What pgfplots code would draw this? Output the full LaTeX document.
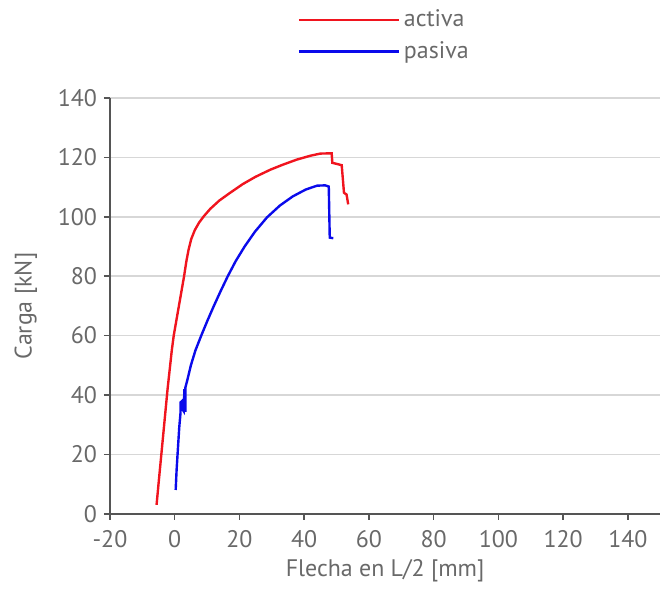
\documentclass[border={4pt 0pt 2pt 1pt}]{standalone}
\usepackage{fontspec}
\setmainfont{PT Sans}
\usepackage{pgfplots}
\pgfplotsset{compat=1.18}
\definecolor{txtgray}{RGB}{105,105,105}
\definecolor{axgray}{RGB}{85,85,85}
\definecolor{gridgray}{RGB}{215,215,215}
\definecolor{cRed}{RGB}{240,20,30}
\definecolor{cBlue}{RGB}{10,10,235}
\begin{document}
\begin{tikzpicture}
\begin{axis}[
  width=276pt, height=208.5pt,
  scale only axis,
  xmin=-20, xmax=150,
  ymin=0, ymax=140,
  xtick={-20,0,...,140},
  ytick={0,20,...,140},
  axis x line*=bottom,
  axis y line*=left,
  axis line style={axgray, line width=0.8pt},
  tick style={axgray, line width=0.8pt},
  tick align=outside,
  major tick length=3pt,
  ymajorgrids,
  grid style={gridgray, line width=0.8pt},
  font=\fontsize{12}{14}\selectfont,
  tick label style={txtgray},
  xticklabel style={yshift=-2pt},
  label style={txtgray},
  /pgf/number format/assume math mode=true,
  xlabel={Flecha en L/2 [mm]},
  ylabel={Carga [kN]},
  xlabel style={yshift=1pt},
  ylabel style={yshift=3.5pt},
  legend style={at={(0.5,1)}, anchor=south, yshift=14pt, draw=none, fill=none,
    text=txtgray, row sep=2pt, font=\fontsize{12}{14}\selectfont},
  legend cell align=left,
  legend image code/.code={\draw[#1, line width=1.4pt] (0pt,0pt) -- (50pt,0pt);},
]
\addplot[cRed, line width=1.2pt] coordinates {
(-5.6,3) (-5.0,10) (-4.3,18) (-3.6,26) (-2.9,34) (-2.2,42) (-1.5,49)
(-0.9,55) (-0.3,60) (0.5,65) (1.3,70) (2.1,75) (2.9,80) (3.6,85)
(4.3,89) (5.1,92.5) (6.2,95.5) (7.5,98) (9,100.2) (11,102.7) (13.8,105.5)
(17,108) (21,111) (25,113.5) (29.6,115.9) (33.5,117.6) (37.8,119.3)
(42,120.6) (45,121.3) (48.5,121.4)
(48.7,118.2) (51.6,117.4) (52.3,108.1) (53.1,107.5) (53.6,104.2)
};
\addlegendentry{activa}
\addplot[cBlue, line width=1.2pt] coordinates {
(0.3,8) (0.6,15) (1.0,22) (1.4,29) (1.8,34) (1.8,37.5) (2.3,38) (2.5,35)
(2.8,34.5) (3.0,42) (3.3,34.3) (3.3,42.5) (3.9,45) (5.0,50) (6.4,55)
(8.2,60) (10.1,65) (12.1,70) (14.2,75) (16.4,80) (18.8,85) (21.6,90)
(24.8,95) (28.5,99.8) (32.5,103.8) (36.5,106.9) (40.5,109.2) (44,110.5)
(46.5,110.6) (47.6,110.2) (47.9,93) (49,92.8)
};
\addlegendentry{pasiva}
\end{axis}
\end{tikzpicture}
\end{document}
